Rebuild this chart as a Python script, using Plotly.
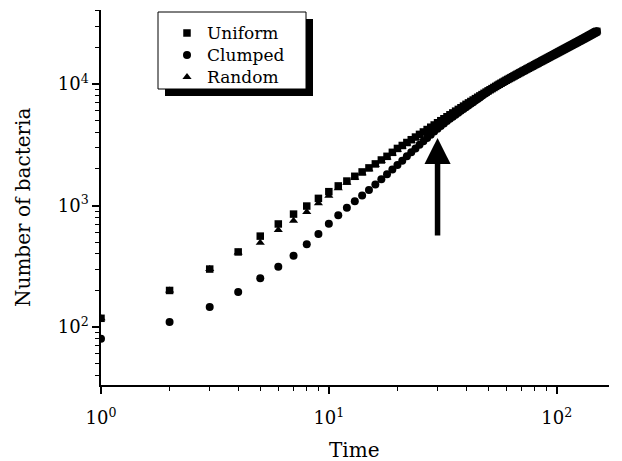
import math
import plotly.graph_objects as go

# ---- data ----
times = list(range(1, 151))

uniform_head = [118, 200, 300, 415, 560, 705, 850, 990, 1145, 1300,
                1450, 1590, 1740, 1890, 2040, 2200, 2370, 2540, 2740, 2950,
                3120, 3300, 3480, 3660, 3850, 4030, 4220, 4410, 4600, 4800,
                4990, 5180, 5380, 5580, 5780, 5980, 6180, 6380, 6580, 6800,
                6990, 7180, 7380, 7580, 7780, 7980, 8180, 8380, 8580, 8780]

random_head = [118, 200, 300, 410, 495, 628, 750, 885, 1043, 1204,
               1385, 1540, 1690, 1840, 1990, 2150, 2320, 2490, 2680, 2880,
               3060, 3240, 3420, 3600, 3790, 3970, 4160, 4350, 4540, 4740,
               4920, 5110, 5300, 5500, 5700, 5900, 6100, 6300, 6500, 6710,
               6910, 7110, 7310, 7510, 7710, 7920, 8120, 8330, 8530, 8740]

clumped_head = [80, 110, 146, 194, 252, 313, 386, 479, 583, 707,
                833, 960, 1085, 1210, 1345, 1490, 1645, 1810, 1980, 2150,
                2340, 2540, 2740, 2950, 3160, 3380, 3600, 3830, 4060, 4290,
                4510, 4730, 4950, 5170, 5380, 5590, 5800, 6010, 6220, 6430,
                6650, 6870, 7090, 7310, 7530, 7760, 7990, 8220, 8450, 8700]

# t = 51..150, where the three series overlap into one band
shared_tail = [8970, 9160, 9360, 9560, 9760, 9960, 10150, 10340, 10530, 10730,
               10910, 11100, 11280, 11460, 11650, 11830, 12020, 12200, 12390, 12570,
               12750, 12930, 13110, 13290, 13470, 13650, 13830, 14010, 14190, 14370,
               14550, 14730, 14910, 15090, 15270, 15450, 15630, 15810, 15990, 16170,
               16350, 16530, 16710, 16890, 17070, 17250, 17430, 17610, 17790, 17970,
               18150, 18330, 18510, 18690, 18870, 19050, 19230, 19410, 19590, 19770,
               19950, 20130, 20310, 20490, 20670, 20850, 21030, 21210, 21390, 21570,
               21750, 21930, 22110, 22290, 22470, 22650, 22830, 23010, 23190, 23380,
               23560, 23740, 23930, 24110, 24300, 24480, 24670, 24850, 25040, 25220,
               25410, 25600, 25780, 25970, 26160, 26350, 26540, 26730, 26920, 27110]

uniform = uniform_head + shared_tail
clumped = clumped_head + shared_tail
random_ = random_head + shared_tail

series_names = ["Uniform", "Clumped", "Random"]

x_tickvals = [1, 10, 100]
x_ticktext = ["10<sup>0</sup>", "10<sup>1</sup>", "10<sup>2</sup>"]
y_tickvals = [100, 1000, 10000]
y_ticktext = ["10<sup>2</sup>", "10<sup>3</sup>", "10<sup>4</sup>"]
x_minor = [2, 3, 4, 5, 6, 7, 8, 9, 20, 30, 40, 50, 60, 70, 80, 90]
y_minor = [40, 50, 60, 70, 80, 90, 200, 300, 400, 500, 600, 700, 800, 900,
           2000, 3000, 4000, 5000, 6000, 7000, 8000, 9000, 20000, 30000, 40000]

arrow_time = 30
arrow_top = 3600
arrow_bottom = 550

FONT = "DejaVu Serif"


def leg(name):
    return '<span style="font-size:17px">%s</span>' % name


fig = go.Figure()
fig.add_trace(go.Scatter(x=times, y=uniform, mode="markers", name=leg(series_names[0]),
                         marker=dict(symbol="square", size=7.5, color="black", line=dict(width=0))))
fig.add_trace(go.Scatter(x=times, y=clumped, mode="markers", name=leg(series_names[1]),
                         marker=dict(symbol="circle", size=8, color="black", line=dict(width=0))))
fig.add_trace(go.Scatter(x=times, y=random_, mode="markers", name=leg(series_names[2]),
                         marker=dict(symbol="triangle-up", size=8, color="black", line=dict(width=0))))

L, R, T, B = 101, 13, 10, 76
W, H = 622, 461
pw, ph = W - L - R, H - T - B


def px_x(p):
    return (p - L) / pw


def px_y(p):
    return (H - B - p) / ph


# legend box + drop shadow
fig.add_shape(type="rect", xref="paper", yref="paper",
              x0=px_x(165), x1=px_x(313), y0=px_y(96), y1=px_y(19),
              fillcolor="black", line=dict(width=0), layer="below")
fig.add_shape(type="rect", xref="paper", yref="paper",
              x0=px_x(158), x1=px_x(306), y0=px_y(89), y1=px_y(12),
              fillcolor="white", line=dict(color="black", width=1), layer="below")

# arrow
fig.add_annotation(x=math.log10(arrow_time), y=math.log10(arrow_top),
                   ax=math.log10(arrow_time), ay=math.log10(arrow_bottom),
                   xref="x", yref="y", axref="x", ayref="y",
                   text="", showarrow=True, arrowhead=2, arrowwidth=5.5,
                   arrowsize=0.95, arrowcolor="black", standoff=0)

# axis titles
fig.add_annotation(text="Time", xref="paper", yref="paper",
                   x=px_x(354), y=px_y(450), showarrow=False,
                   xanchor="center", yanchor="middle",
                   font=dict(family=FONT, size=20, color="black"))
fig.add_annotation(text="Number of bacteria", xref="paper", yref="paper",
                   x=px_x(23), y=px_y(208), showarrow=False, textangle=-90,
                   xanchor="center", yanchor="middle",
                   font=dict(family=FONT, size=20, color="black"))

axis_common = dict(type="log", showline=True, linecolor="black", linewidth=1.5,
                   ticks="outside", ticklen=7, tickwidth=1.5, tickcolor="black",
                   showgrid=False, zeroline=False, mirror=False,
                   tickfont=dict(family=FONT, size=18, color="black"))

fig.update_xaxes(range=[0, 2.2296], tickmode="array", tickvals=x_tickvals, ticktext=x_ticktext,
                 ticklabelstandoff=9,
                 minor=dict(tickmode="array", tickvals=x_minor, ticks="outside", ticklen=4,
                            tickwidth=1.2, tickcolor="black", showgrid=False),
                 **axis_common)
fig.update_yaxes(range=[1.523, 4.609], tickmode="array", tickvals=y_tickvals, ticktext=y_ticktext,
                 minor=dict(tickmode="array", tickvals=y_minor, ticks="outside", ticklen=4,
                            tickwidth=1.2, tickcolor="black", showgrid=False),
                 **axis_common)

fig.update_layout(
    width=W, height=H, autosize=False,
    margin=dict(l=L, r=R, t=T, b=B, pad=0),
    paper_bgcolor="white", plot_bgcolor="white",
    font=dict(family=FONT, color="black"),
    showlegend=True,
    legend=dict(x=px_x(167), y=px_y(17), xanchor="left", yanchor="top",
                bgcolor="rgba(0,0,0,0)", borderwidth=0,
                font=dict(family=FONT, size=14.6, color="black"),
                itemsizing="trace", tracegroupgap=0),
)

fig.write_html("out.html", config={"displayModeBar": False},
               post_script="document.body.style.margin='0';document.body.style.padding='0';")
